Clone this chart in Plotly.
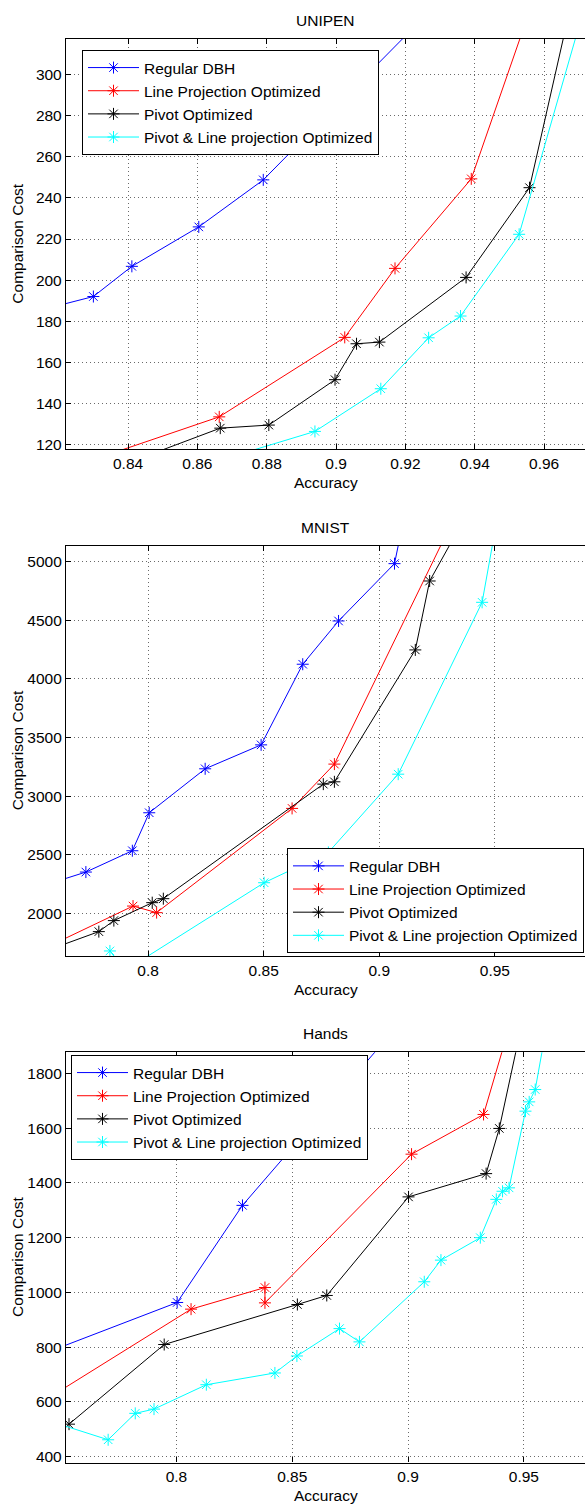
import plotly.graph_objects as go

# ---------------- data ----------------
series_names = ["Regular DBH", "Line Projection Optimized", "Pivot Optimized",
                "Pivot & Line projection Optimized"]
series_colors = ["#0000ff", "#ff0000", "#000000", "#00ffff"]

# UNIPEN
unipen_blue_acc = [0.815, 0.830, 0.8411, 0.8604, 0.8790, 0.930]
unipen_blue_cost = [185.5, 192.0, 206.7, 225.9, 248.8, 336]
unipen_red_acc = [0.825, 0.8663, 0.9025, 0.9170, 0.939, 0.956]
unipen_red_cost = [109.7, 133.4, 172.1, 205.7, 249.3, 332]
unipen_black_acc = [0.84, 0.8666, 0.8806, 0.8997, 0.9059, 0.9125, 0.9375, 0.9558, 0.968]
unipen_black_cost = [111.0, 127.9, 129.4, 151.5, 169.0, 169.8, 201.3, 245.0, 336]
unipen_cyan_acc = [0.86, 0.8939, 0.9129, 0.9267, 0.9359, 0.9528, 0.972]
unipen_cyan_cost = [109.0, 126.3, 147.1, 171.9, 182.5, 222.3, 335]

# MNIST
mnist_blue_acc = [0.760, 0.7731, 0.7932, 0.8005, 0.8247, 0.8489, 0.8669, 0.8824, 0.9066, 0.912]
mnist_blue_cost = [2270, 2352, 2534, 2858, 3233, 3437, 4125, 4494, 4983, 5500]
mnist_red_acc = [0.755, 0.7935, 0.8037, 0.8623, 0.8806, 0.935]
mnist_red_cost = [1700, 2062, 2006, 2895, 3273, 5478]
mnist_black_acc = [0.755, 0.7787, 0.7852, 0.8018, 0.8066, 0.8758, 0.8806, 0.9156, 0.9218, 0.935]
mnist_black_cost = [1674, 1844, 1938, 2091, 2125, 3102, 3122, 4247, 4835, 5302]
mnist_cyan_acc = [0.7835, 0.79, 0.8502, 0.878, 0.9082, 0.9445, 0.951]
mnist_cyan_cost = [1679, 1512, 2261, 2520, 3187, 4653, 5366]

# Hands
hands_blue_acc = [0.745, 0.8003, 0.8285, 0.89]
hands_blue_cost = [784, 963.4, 1318, 1920]
hands_red_acc = [0.745, 0.8063, 0.8382, 0.8382, 0.9015, 0.9326, 0.943]
hands_red_cost = [616, 939, 1018, 962, 1505, 1650, 1949]
hands_black_acc = [0.7536, 0.7947, 0.8522, 0.8649, 0.9002, 0.9337, 0.9394, 0.948]
hands_black_cost = [519, 809.8, 956, 989, 1349, 1434, 1599, 1936]
hands_cyan_acc = [0.745, 0.7705, 0.7822, 0.7903, 0.8129, 0.8425, 0.8520, 0.8704, 0.8790,
                  0.9070, 0.9142, 0.9312, 0.9381, 0.9408, 0.9436, 0.9507, 0.9523, 0.9549, 0.960]
hands_cyan_cost = [531, 462, 558.5, 574, 663, 706, 768, 868, 819.5,
                   1039, 1118, 1200, 1340, 1369.5, 1382, 1662, 1696, 1741, 1980]

# ticks
unipen_xtickvals = [0.84, 0.86, 0.88, 0.90, 0.92, 0.94, 0.96]
unipen_xticktext = ["0.84", "0.86", "0.88", "0.9", "0.92", "0.94", "0.96"]
unipen_ytickvals = [120, 140, 160, 180, 200, 220, 240, 260, 280, 300]
mnist_xtickvals = [0.80, 0.85, 0.90, 0.95]
mnist_xticktext = ["0.8", "0.85", "0.9", "0.95"]
mnist_ytickvals = [2000, 2500, 3000, 3500, 4000, 4500, 5000]
hands_xtickvals = [0.80, 0.85, 0.90, 0.95]
hands_xticktext = ["0.8", "0.85", "0.9", "0.95"]
hands_ytickvals = [400, 600, 800, 1000, 1200, 1400, 1600, 1800]

titles = ["UNIPEN", "MNIST", "Hands"]
xlabel = "Accuracy"
ylabel = "Comparison Cost"

# ---------------- figure ----------------
H = 1504.0
W_PLOT = 519.0
FONT = "Liberation Sans, Arial, sans-serif"
FS = 15.5

fig = go.Figure()

panels = [
    ([unipen_blue_acc, unipen_red_acc, unipen_black_acc, unipen_cyan_acc],
     [unipen_blue_cost, unipen_red_cost, unipen_black_cost, unipen_cyan_cost]),
    ([mnist_blue_acc, mnist_red_acc, mnist_black_acc, mnist_cyan_acc],
     [mnist_blue_cost, mnist_red_cost, mnist_black_cost, mnist_cyan_cost]),
    ([hands_blue_acc, hands_red_acc, hands_black_acc, hands_cyan_acc],
     [hands_blue_cost, hands_red_cost, hands_black_cost, hands_cyan_cost]),
]
legend_ids = ["legend", "legend2", "legend3"]

for p, (xs, ys) in enumerate(panels):
    ax = "" if p == 0 else str(p + 1)
    for i in range(4):
        fig.add_trace(go.Scatter(
            x=xs[i], y=ys[i], mode="lines+markers", name=series_names[i],
            line=dict(color=series_colors[i], width=1),
            marker=dict(symbol="asterisk-open", size=10,
                        line=dict(color=series_colors[i], width=1)),
            xaxis="x" + ax, yaxis="y" + ax, legend=legend_ids[p],
            showlegend=True,
        ))

# panel pixel geometry (top, bottom) of plot areas
geom = [(39.0, 449.3), (545.7, 956.0), (1052.3, 1462.5)]
xranges = [[0.8221, 0.9718], [0.7645, 0.9890], [0.7523, 0.9764]]
yranges = [[117.6, 317.4], [1636, 5136], [379, 1877]]
xticks = [(unipen_xtickvals, unipen_xticktext), (mnist_xtickvals, mnist_xticktext),
          (hands_xtickvals, hands_xticktext)]
yticks = [unipen_ytickvals, mnist_ytickvals, hands_ytickvals]

common = dict(showline=True, linecolor="black", linewidth=1.3, ticks="inside",
              ticklen=5, tickcolor="black", tickwidth=1, showgrid=True,
              gridcolor="#6a6a6a", griddash="1px,3px", gridwidth=1, zeroline=False,
              tickfont=dict(size=FS, color="black", family=FONT),
              automargin=False, fixedrange=True)

layout = dict(width=585, height=1504, margin=dict(l=66, r=0, t=0, b=0),
              plot_bgcolor="white", paper_bgcolor="white",
              font=dict(family=FONT, size=FS, color="black"))

annotations = []
for p in range(3):
    ax = "" if p == 0 else str(p + 1)
    top, bot = geom[p]
    dom = [1 - bot / H, 1 - top / H]
    layout["xaxis" + ax] = dict(common, domain=[0, 1], anchor="y" + ax, range=xranges[p],
                                tickvals=xticks[p][0], ticktext=xticks[p][1], mirror="ticks")
    layout["yaxis" + ax] = dict(common, domain=dom, anchor="x" + ax, range=yranges[p],
                                tickvals=yticks[p], mirror=False)
    annotations.append(dict(text=titles[p], xref="paper", yref="paper", x=0.5,
                            y=1 - (top - 18.5) / H, xanchor="center", yanchor="middle",
                            showarrow=False, font=dict(size=FS)))
    annotations.append(dict(text=xlabel, xref="paper", yref="paper", x=0.5,
                            y=1 - (bot + 33) / H, xanchor="center", yanchor="middle",
                            showarrow=False, font=dict(size=FS)))
    annotations.append(dict(text=ylabel, xref="paper", yref="paper",
                            x=(17.5 - 66) / W_PLOT, y=1 - (top + bot) / 2 / H,
                            xanchor="center", yanchor="middle", textangle=-90,
                            showarrow=False, font=dict(size=FS)))

leg_common = dict(bgcolor="white", bordercolor="black", borderwidth=1,
                  font=dict(size=FS, color="black", family=FONT), itemwidth=51,
                  xanchor="left", yanchor="top")
layout["legend"] = dict(leg_common, x=(82 - 66) / W_PLOT, y=1 - 50 / H)
layout["legend2"] = dict(leg_common, x=(584 - 66) / W_PLOT, y=1 - 848.3 / H, xanchor="right")
layout["legend3"] = dict(leg_common, x=(71 - 66) / W_PLOT, y=1 - 1055 / H)
layout["annotations"] = annotations

fig.update_layout(**layout)
fig.write_html("out.html")
